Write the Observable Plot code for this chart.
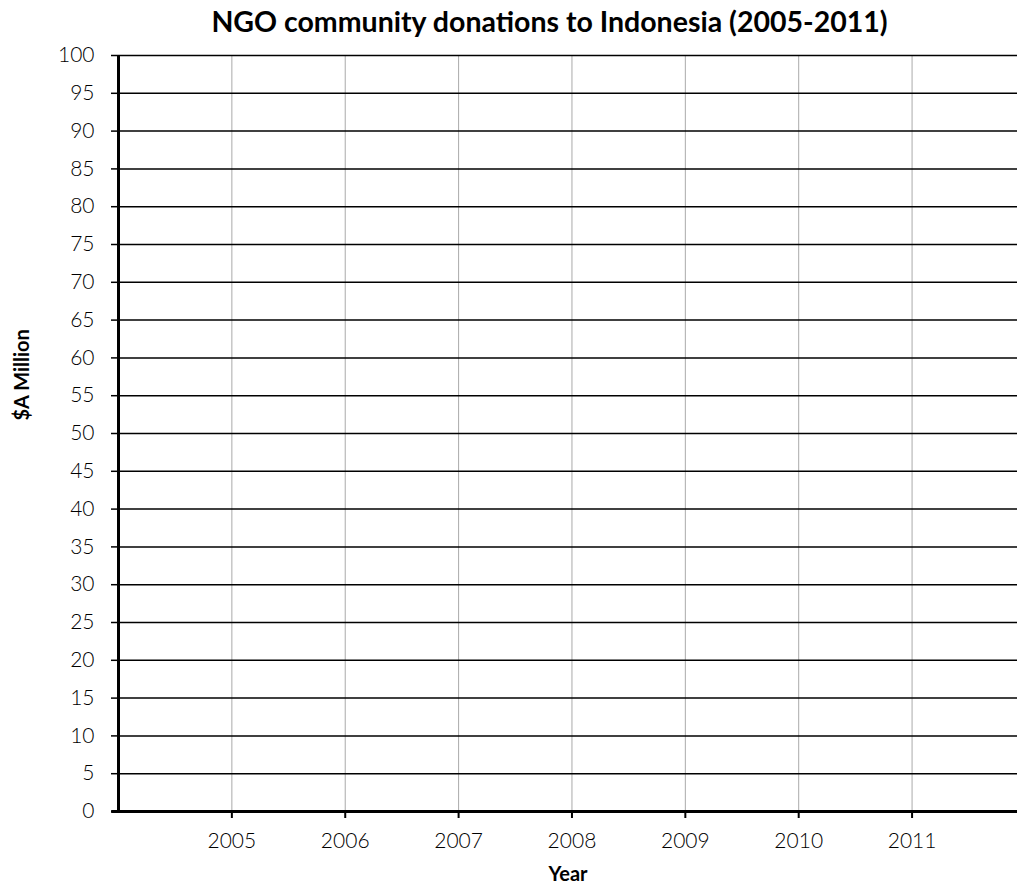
<!DOCTYPE html>
<html>
<head>
<meta charset="utf-8">
<script src="https://cdn.jsdelivr.net/npm/d3@7"></script>
<script src="https://cdn.jsdelivr.net/npm/@observablehq/plot@0.6"></script>
<style>
  html, body { margin: 0; padding: 0; background: #fff; }
  body { width: 1017px; height: 892px; overflow: hidden; font-family: Lato, "Open Sans", sans-serif; }
  #title { height: 40px; box-sizing: border-box; padding-left: 82px; padding-top: 5px; text-align: center;
           font-weight: bold; font-size: 28.5px; color: #000; line-height: 32px; white-space: nowrap; }
  #chart svg { display: block; }
</style>
</head>
<body>
<div id="title">NGO community donations to Indonesia (2005-2011)</div>
<div id="chart"></div>
<script>
// Categories (years) shown on the x axis
const years = [2005, 2006, 2007, 2008, 2009, 2010, 2011];
// Y axis tick values ($A Million)
const yTicks = [0, 5, 10, 15, 20, 25, 30, 35, 40, 45, 50, 55, 60, 65, 70, 75, 80, 85, 90, 95, 100];
// Series values: the reference chart shows no plotted data
const donations = [];

const chart = Plot.plot({
  width: 1017,
  height: 852,
  marginTop: 15,
  marginBottom: 81,
  marginLeft: 118,
  marginRight: 0,
  style: { fontFamily: "Lato, 'Open Sans', sans-serif", fontSize: "21px", color: "#000", background: "#fff" },
  x: { domain: [2004, 2011.93] },
  y: { domain: [0, 100] },
  marks: [
    Plot.ruleX(years, { stroke: "#aaa", strokeWidth: 1 }),
    Plot.ruleY(yTicks, { stroke: "#000", strokeWidth: 1.5 }),
    Plot.axisY(yTicks, { tickSize: 7, tickPadding: 17, stroke: "#000", strokeWidth: 1.5, label: null, fill: "#000", fontWeight: 300 }),
    Plot.axisX(years, { tickSize: 7, tickPadding: 15, stroke: "#000", strokeWidth: 2, label: null, tickFormat: d => String(d), fill: "#000", fontWeight: 300 }),
    Plot.ruleX([2004], { stroke: "#000", strokeWidth: 3 }),
    Plot.ruleY([0], { stroke: "#000", strokeWidth: 3, x1: 2003.94, x2: 2011.93 }),
    Plot.line(donations, { x: "year", y: "value", stroke: "#000" }),
    Plot.text(["$A Million"], { frameAnchor: "left", rotate: -90, dx: -96, dy: -13, fontWeight: "bold", fontSize: 20, fill: "#000" }),
    Plot.text(["Year"], { frameAnchor: "bottom", dy: 69, fontWeight: "bold", fontSize: 20, fill: "#000" })
  ]
});
document.getElementById("chart").appendChild(chart);
</script>
</body>
</html>
